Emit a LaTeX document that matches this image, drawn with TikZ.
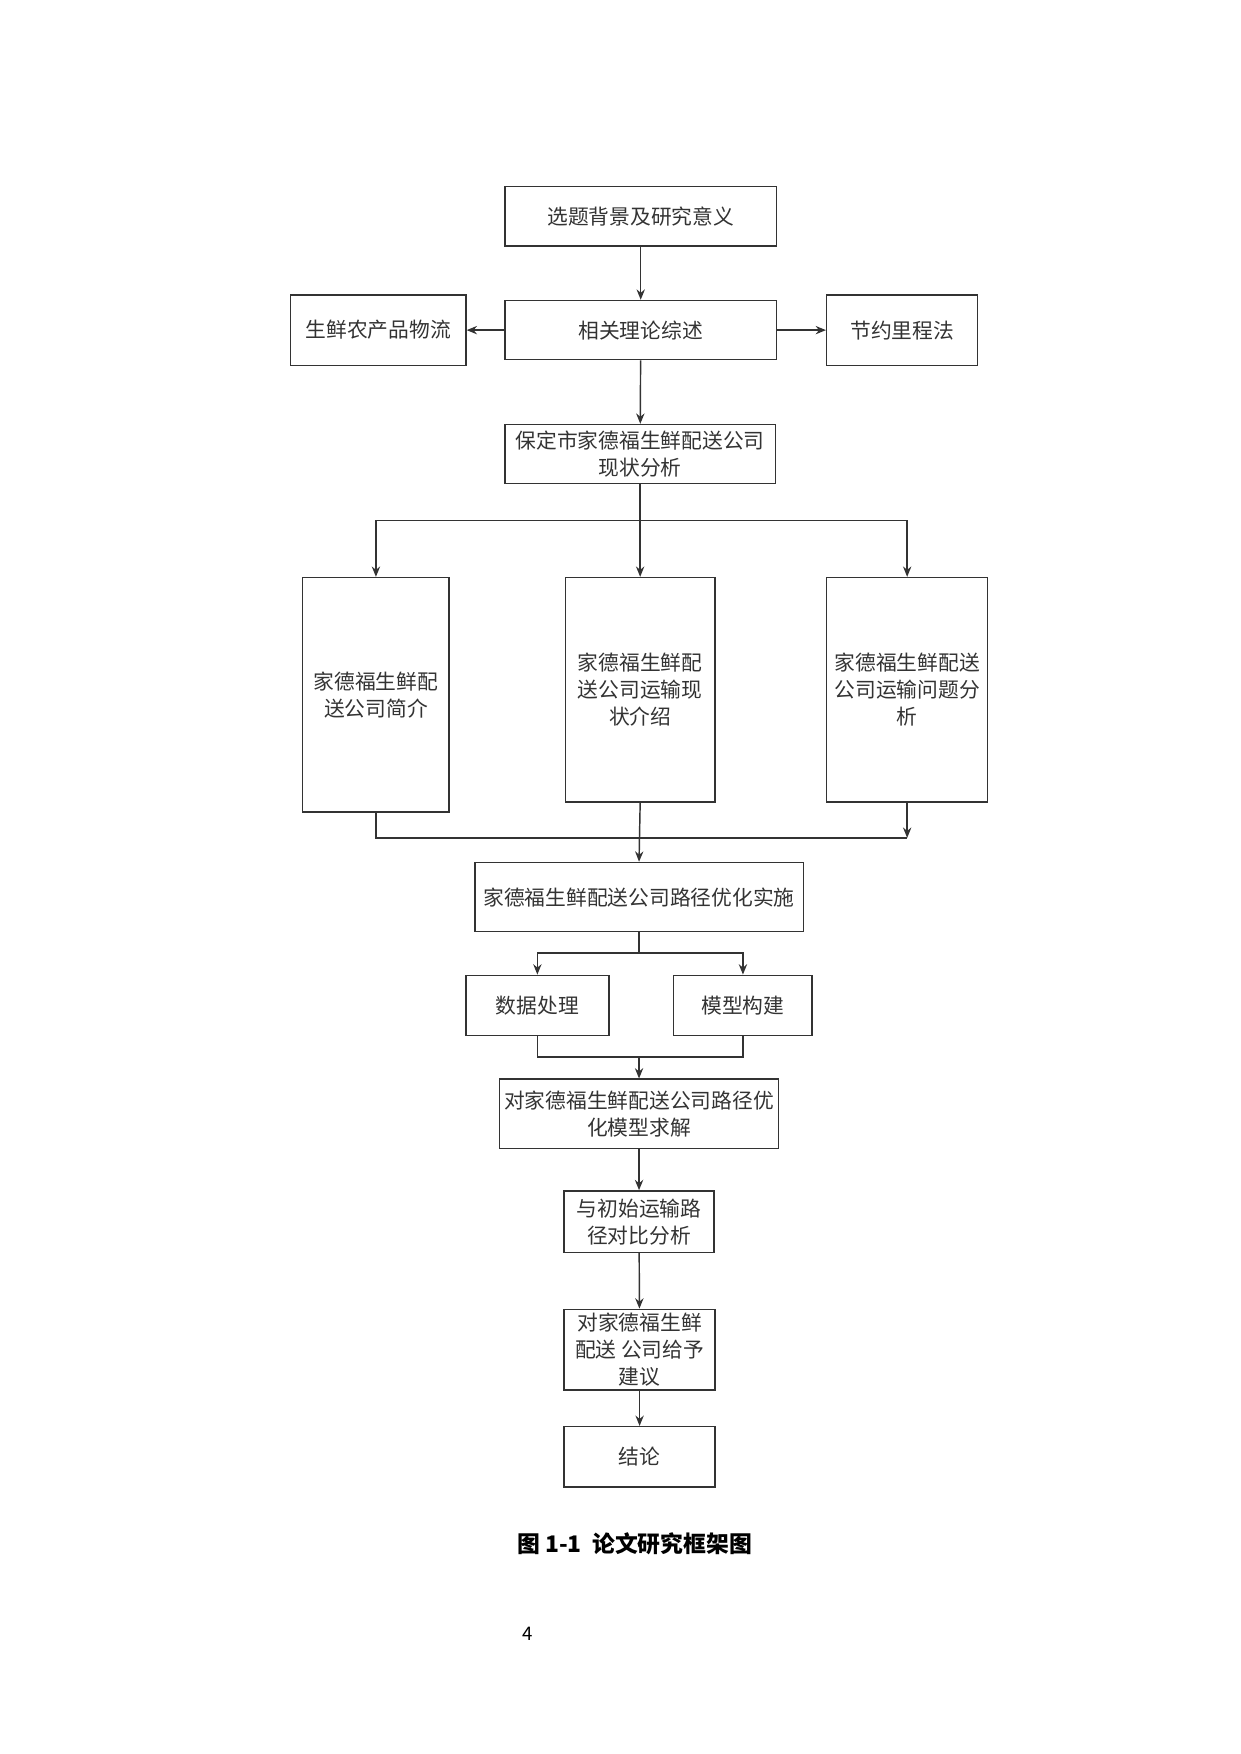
\documentclass[tikz,border=0pt]{standalone}
\usepackage{fontspec}
\setmainfont{Noto Sans CJK SC}
\usetikzlibrary{arrows.meta,positioning}
\begin{document}
\begin{tikzpicture}[x=0.018919cm,y=-0.018919cm,
  box/.style={draw=black!80,line width=0.7pt,align=center,font=\fontsize{10}{13}\selectfont,text=black!80,inner sep=0pt},
  arr/.style={-{Stealth[length=5pt,width=4pt]},draw=black!80,line width=0.7pt},
  ln/.style={draw=black!80,line width=0.7pt}]
\useasboundingbox (0,0) rectangle (1110,1570);
% main column
\node[box,minimum width=243*0.018919cm,minimum height=53*0.018919cm] (bg) at (573.5,193.5) {选题背景及研究意义};
\node[box,minimum width=243*0.018919cm,minimum height=53*0.018919cm] (th) at (573.5,295.5) {相关理论综述};
\node[box,minimum width=157*0.018919cm,minimum height=63*0.018919cm] (fr) at (338.5,295.5) {生鲜农产品物流};
\node[box,minimum width=135*0.018919cm,minimum height=63*0.018919cm] (sv) at (807.5,295.5) {节约里程法};
\node[box,minimum width=242*0.018919cm,minimum height=53*0.018919cm] (st) at (573,406.5) {保定市家德福生鲜配送公司\\现状分析};
% three branches
\node[box,minimum width=131*0.018919cm,minimum height=210*0.018919cm] (in) at (336.5,622) {家德福生鲜配\\送公司简介};
\node[box,minimum width=134*0.018919cm,minimum height=201*0.018919cm] (tr) at (573,617.5) {家德福生鲜配\\送公司运输现\\状介绍};
\node[box,minimum width=144*0.018919cm,minimum height=201*0.018919cm] (pb) at (812,617.5) {家德福生鲜配送\\公司运输问题分\\析};
\node[box,minimum width=294*0.018919cm,minimum height=62*0.018919cm] (op) at (572,803) {家德福生鲜配送公司路径优化实施};
\node[box,minimum width=128*0.018919cm,minimum height=54*0.018919cm] (dt) at (481,900) {数据处理};
\node[box,minimum width=124*0.018919cm,minimum height=54*0.018919cm] (md) at (665,900) {模型构建};
\node[box,minimum width=250*0.018919cm,minimum height=62*0.018919cm] (sl) at (572,997) {对家德福生鲜配送公司路径优\\化模型求解};
\node[box,minimum width=134*0.018919cm,minimum height=55*0.018919cm] (cp) at (572,1093.5) {与初始运输路\\径对比分析};
\node[box,minimum width=135*0.018919cm,minimum height=72*0.018919cm] (sg) at (572.5,1208) {对家德福生鲜\\配送 公司给予\\建议};
\node[box,minimum width=135*0.018919cm,minimum height=54*0.018919cm] (cl) at (572.5,1304) {结论};
% connectors
\draw[arr] (bg) -- (th);
\draw[arr] (th) -- (fr);
\draw[arr] (th) -- (sv);
\draw[arr] (th) -- (st);
\coordinate (sp) at (573,466);
\draw[ln] (st.south) -- (sp);
\draw[arr] (sp) -| (in.north);
\draw[arr] (sp) -- (tr.north);
\draw[arr] (sp) -| (pb.north);
\coordinate (jn) at (812,750);
\draw[ln] (in.south) |- (jn);
\draw[arr] (pb.south) -- (jn);
\draw[arr] (tr.south) -- (op.north);
\coordinate (sp2) at (572,853);
\draw[ln] (op.south) -- (sp2);
\draw[arr] (sp2) -| (dt.north);
\draw[arr] (sp2) -| (md.north);
\coordinate (jn2) at (572,946);
\draw[ln] (dt.south) |- (jn2);
\draw[ln] (md.south) |- (jn2);
\draw[arr] (jn2) -- (sl.north);
\draw[arr] (sl) -- (cp);
\draw[arr] (cp) -- (sg);
\draw[arr] (sg) -- (cl);
% caption
\node[font=\fontsize{11}{13}\selectfont\bfseries] (cap) at (568,1382) {图\ 1-1\ \ 论文研究框架图};
\node[font=\fontsize{9}{11}\selectfont\rmfamily] (pg) at (472,1462) {4};
\end{tikzpicture}
\end{document}
